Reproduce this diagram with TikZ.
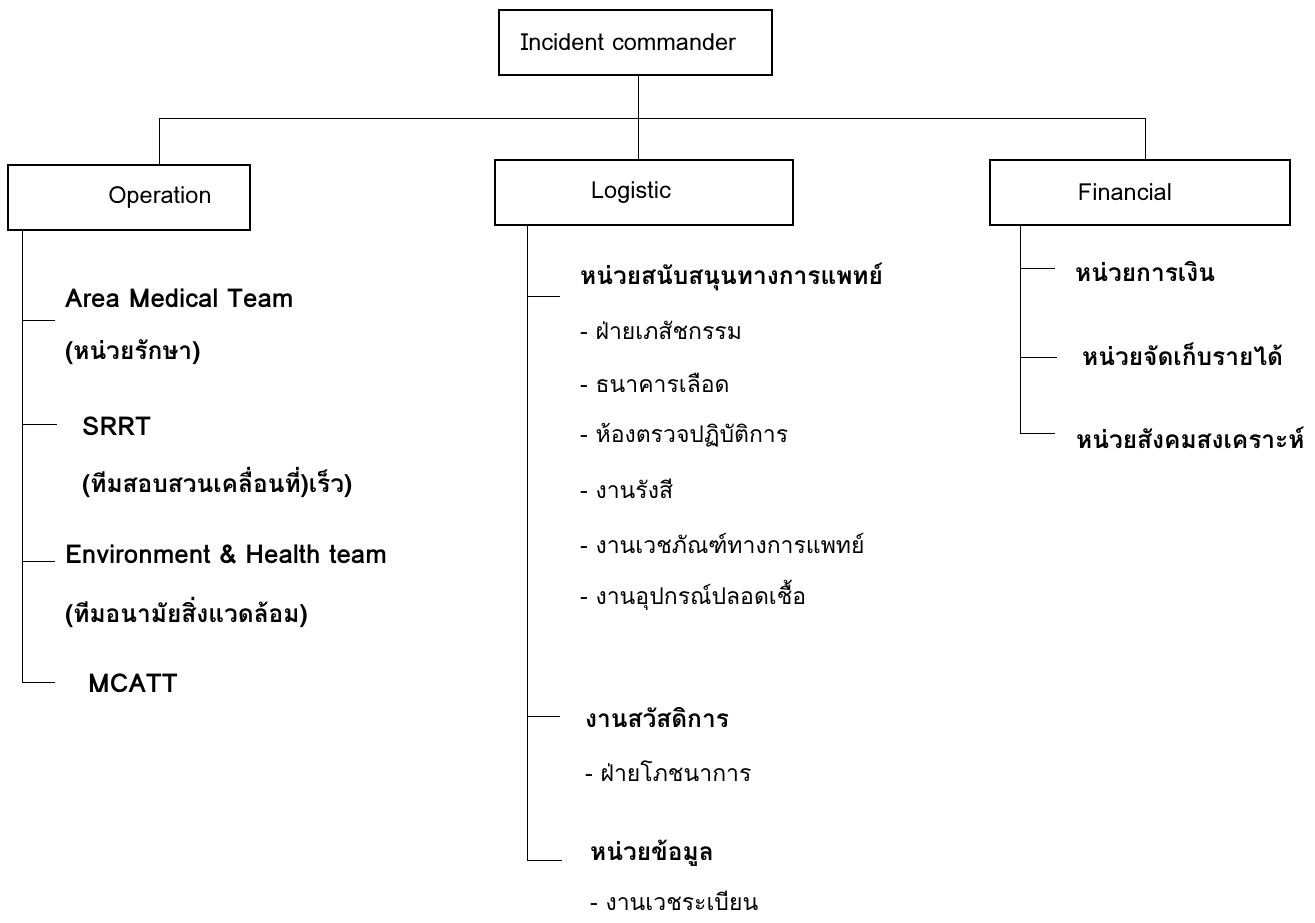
\documentclass[tikz,border=0pt]{standalone}
\usepackage{fontspec}
\setmainfont{Loma}[Script=Thai]
\begin{document}
\begin{tikzpicture}[x=1pt,y=-1pt,
  box/.style={draw,line width=1.4pt,minimum height=65pt,inner sep=0pt,font=\fontsize{23.5}{28}\selectfont},
  conn/.style={line width=0.9pt},
  headl/.style={anchor=west,inner sep=0pt,font=\fontsize{26}{30}\selectfont\bfseries},
  head/.style={anchor=west,inner sep=0pt,font=\fontsize{24.5}{29}\selectfont\bfseries},
  item/.style={anchor=west,inner sep=0pt,font=\fontsize{23}{28}\selectfont}]
\useasboundingbox (0,0) rectangle (1315,922);
% boxes
\node[box,minimum width=273pt] (ic) at (635.5,42.5) {Incident commander\hspace*{14pt}};
\node[box,minimum width=242pt] (op) at (129,197.5) {\hspace*{62pt}Operation};
\node[box,minimum width=298pt] (lo) at (644,192.5) {Logistic\hspace*{26pt}};
\node[box,minimum width=300pt] (fi) at (1140,192.5) {Financial\hspace*{30pt}};
% top tree
\coordinate (j) at (638,118);
\draw[conn] (ic.south -| j) -- (lo.north -| j);
\draw[conn] (op.north -| 159,0) -- (159,118) -- (1145,118) -- (fi.north -| 1145,0);
% Operation branch
\coordinate (o1) at (55,320);
\coordinate (o2) at (57,424);
\coordinate (o3) at (55,561);
\coordinate (o4) at (55,682);
\draw[conn] (op.south -| 22,0) -- (22,682) -- (o4);
\draw[conn] (o1 -| 22,0) -- (o1);
\draw[conn] (o2 -| 22,0) -- (o2);
\draw[conn] (o3 -| 22,0) -- (o3);
\node[headl] (t1) at (65,298) {Area Medical Team};
\node[head] (t1b) at (65,352) {(หน่วยรักษา)};
\node[headl] (t2) at (82,426) {SRRT};
\node[head] (t2b) at (82,482) {(ทีมสอบสวนเคลื่อนที่)เร็ว)};
\node[headl] (t3) at (65,555) {Environment \& Health team};
\node[head] (t3b) at (65,612) {(ทีมอนามัยสิ่งแวดล้อม)};
\node[headl] (t4) at (88,683) {MCATT};
% Logistic branch
\coordinate (l1) at (560,296);
\coordinate (l2) at (560,716);
\coordinate (l3) at (562,860);
\draw[conn] (lo.south -| 527,0) -- (527,860) -- (l3);
\draw[conn] (l1 -| 527,0) -- (l1);
\draw[conn] (l2 -| 527,0) -- (l2);
\node[head] (s1) at (580,277) {หน่วยสนับสนุนทางการแพทย์};
\node[item] (s1a) at (580,330) {- ฝ่ายเภสัชกรรม};
\node[item] (s1b) at (580,383) {- ธนาคารเลือด};
\node[item] (s1c) at (580,435) {- ห้องตรวจปฏิบัติการ};
\node[item] (s1d) at (580,489) {- งานรังสี};
\node[item] (s1e) at (580,543) {- งานเวชภัณฑ์ทางการแพทย์};
\node[item] (s1f) at (580,595) {- งานอุปกรณ์ปลอดเชื้อ};
\node[head] (s2) at (585,718) {งานสวัสดิการ};
\node[item] (s2a) at (585,771) {- ฝ่ายโภชนาการ};
\node[head] (s3) at (590,853) {หน่วยข้อมูล};
\node[item] (s3a) at (590,901) {- งานเวชระเบียน};
% Financial branch
\coordinate (f1) at (1055,268);
\coordinate (f2) at (1057,357);
\coordinate (f3) at (1055,433);
\draw[conn] (fi.south -| 1020,0) -- (1020,433) -- (f3);
\draw[conn] (f1 -| 1020,0) -- (f1);
\draw[conn] (f2 -| 1020,0) -- (f2);
\node[head] (g1) at (1075,272) {หน่วยการเงิน};
\node[head] (g2) at (1082,354) {หน่วยจัดเก็บรายได้};
\node[head] (g3) at (1076,438) {หน่วยสังคมสงเคราะห์};
\end{tikzpicture}
\end{document}
